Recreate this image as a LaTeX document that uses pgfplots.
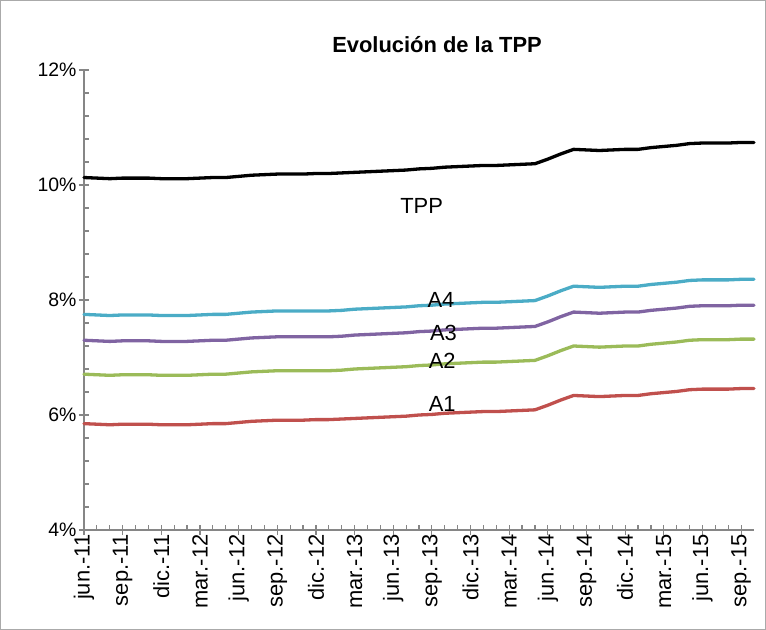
\documentclass[border=0pt]{standalone}
\usepackage{pgfplots}
\pgfplotsset{compat=1.18}
\usepackage{pgfplotstable}
\usepackage{fontspec}
\setmainfont{Liberation Sans}
\definecolor{cTPP}{HTML}{000000}
\definecolor{cA4}{HTML}{4BACC6}
\definecolor{cA3}{HTML}{8064A2}
\definecolor{cA2}{HTML}{9BBB59}
\definecolor{cA1}{HTML}{C0504D}
\definecolor{axgray}{HTML}{868686}
\pgfplotstableread{
m tpp a4 a3 a2 a1
0 10.13 7.75 7.30 6.71 5.85
1 10.12 7.74 7.29 6.70 5.84
2 10.11 7.73 7.28 6.69 5.83
3 10.12 7.74 7.29 6.70 5.84
4 10.12 7.74 7.29 6.70 5.84
5 10.12 7.74 7.29 6.70 5.84
6 10.11 7.73 7.28 6.69 5.83
7 10.11 7.73 7.28 6.69 5.83
8 10.11 7.73 7.28 6.69 5.83
9 10.12 7.74 7.29 6.70 5.84
10 10.13 7.75 7.30 6.71 5.85
11 10.13 7.75 7.30 6.71 5.85
12 10.15 7.77 7.32 6.73 5.87
13 10.17 7.79 7.34 6.75 5.89
14 10.18 7.80 7.35 6.76 5.90
15 10.19 7.81 7.36 6.77 5.91
16 10.19 7.81 7.36 6.77 5.91
17 10.19 7.81 7.36 6.77 5.91
18 10.20 7.81 7.36 6.77 5.92
19 10.20 7.81 7.36 6.77 5.92
20 10.21 7.82 7.37 6.78 5.93
21 10.22 7.84 7.39 6.80 5.94
22 10.23 7.85 7.40 6.81 5.95
23 10.24 7.86 7.41 6.82 5.96
24 10.25 7.87 7.42 6.83 5.97
25 10.26 7.88 7.43 6.84 5.98
26 10.28 7.90 7.45 6.86 6.00
27 10.29 7.91 7.46 6.87 6.01
28 10.31 7.93 7.48 6.89 6.03
29 10.32 7.94 7.49 6.90 6.04
30 10.33 7.95 7.50 6.91 6.05
31 10.34 7.96 7.51 6.92 6.06
32 10.34 7.96 7.51 6.92 6.06
33 10.35 7.97 7.52 6.93 6.07
34 10.36 7.98 7.53 6.94 6.08
35 10.37 7.99 7.54 6.95 6.09
36 10.45 8.07 7.62 7.03 6.17
37 10.54 8.16 7.71 7.12 6.26
38 10.62 8.24 7.79 7.20 6.34
39 10.61 8.23 7.78 7.19 6.33
40 10.60 8.22 7.77 7.18 6.32
41 10.61 8.23 7.78 7.19 6.33
42 10.62 8.24 7.79 7.20 6.34
43 10.62 8.24 7.79 7.20 6.34
44 10.65 8.27 7.82 7.23 6.37
45 10.67 8.29 7.84 7.25 6.39
46 10.69 8.31 7.86 7.27 6.41
47 10.72 8.34 7.89 7.30 6.44
48 10.73 8.35 7.90 7.31 6.45
49 10.73 8.35 7.90 7.31 6.45
50 10.73 8.35 7.90 7.31 6.45
51 10.74 8.36 7.91 7.32 6.46
52 10.74 8.36 7.91 7.32 6.46
}\datatable
\begin{document}
\begin{tikzpicture}
\begin{axis}[
  scale only axis, width=670bp, height=460bp,
  xmin=0, xmax=52, ymin=4, ymax=12,
  axis x line*=bottom, axis y line*=left,
  axis line style={axgray, line width=1.2bp},
  tick style={axgray, line width=1.2bp},
  tick align=inside,
  major tick length=10bp, minor tick length=5bp,
  major x tick style={yshift=-5bp},
  major y tick style={xshift=-5bp},
  ytick={4,6,8,10,12},
  yticklabels={4\%,6\%,8\%,10\%,12\%},
  minor y tick num=4,
  xtick={0,3,...,51},
  xticklabels={jun.-11,sep.-11,dic.-11,mar.-12,jun.-12,sep.-12,dic.-12,mar.-13,jun.-13,sep.-13,dic.-13,mar.-14,jun.-14,sep.-14,dic.-14,mar.-15,jun.-15,sep.-15},
  minor x tick num=2,
  x tick label style={rotate=90, anchor=east, font=\fontsize{22}{26}\selectfont, xshift=-1bp},
  y tick label style={font=\fontsize{19.5}{23}\selectfont, xshift=-4bp},
  every axis plot/.append style={line width=3.3bp, line join=round, line cap=round},
  clip=false,
]
\addplot[cTPP] table[x=m, y=tpp] {\datatable};
\addplot[cA4] table[x=m, y=a4] {\datatable};
\addplot[cA3] table[x=m, y=a3] {\datatable};
\addplot[cA2] table[x=m, y=a2] {\datatable};
\addplot[cA1] table[x=m, y=a1] {\datatable};
\node[font=\fontsize{22}{26}\selectfont] at (axis cs:26.2,9.635) {TPP};
\node[font=\fontsize{22}{26}\selectfont] at (axis cs:27.7,8.0) {A4};
\node[font=\fontsize{22}{26}\selectfont] at (axis cs:27.9,7.43) {A3};
\node[font=\fontsize{22}{26}\selectfont] at (axis cs:27.8,6.94) {A2};
\node[font=\fontsize{22}{26}\selectfont] at (axis cs:27.8,6.19) {A1};
\coordinate (LL) at (rel axis cs:0,0);
\end{axis}
\pgfresetboundingbox
\path[use as bounding box] ([shift={(-84bp,-100bp)}]LL) rectangle ([shift={(682bp,530bp)}]LL);
\draw[axgray!70, line width=0.8bp] ([shift={(-83.5bp,-99.5bp)}]LL) rectangle ([shift={(681.5bp,529.5bp)}]LL);
\node[font=\bfseries\fontsize{22}{26}\selectfont] at ([shift={(353bp,485bp)}]LL) {Evolución de la TPP};
\end{tikzpicture}
\end{document}
